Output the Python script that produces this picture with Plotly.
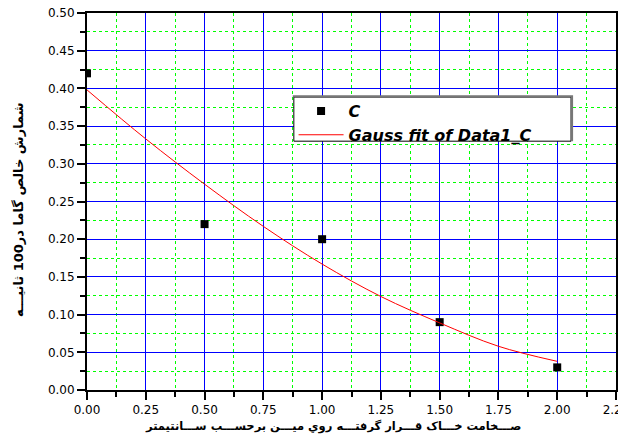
import plotly.graph_objects as go

# measured data
x_data = [0.0, 0.5, 1.0, 1.5, 2.0]
y_data = [0.42, 0.22, 0.20, 0.09, 0.03]

# Gauss fit curve values
x_fit = [0.0, 0.25, 0.5, 0.75, 1.0, 1.25, 1.5, 1.75, 2.0]
y_fit = [0.398, 0.333, 0.273, 0.217, 0.167, 0.124, 0.089, 0.058, 0.038]

x_ticks = [0.0, 0.25, 0.5, 0.75, 1.0, 1.25, 1.5, 1.75, 2.0, 2.25]
y_ticks = [0.0, 0.05, 0.10, 0.15, 0.20, 0.25, 0.30, 0.35, 0.40, 0.45, 0.50]

x_title = "صـــخامت خـــاک قـــرار گرفتـــه روي ميـــن برحســـب ســـانتيمتر"
y_title = "شمارش خالص گاما در100 ثانيـــه"

fig = go.Figure()
fig.add_trace(go.Scatter(
    x=x_data, y=y_data, mode="markers", name="C",
    marker=dict(symbol="square", size=8, color="black"),
    cliponaxis=True,
))
fig.add_trace(go.Scatter(
    x=x_fit, y=y_fit, mode="lines", name="Gauss fit of Data1_C",
    line=dict(color="red", width=1, shape="spline"),
))

axis_common = dict(
    showline=True, linecolor="black", linewidth=2, mirror=True,
    ticks="outside", ticklen=8, tickwidth=1.5, tickcolor="black",
    showgrid=True, gridcolor="#0000ff", gridwidth=1,
    zeroline=False, automargin=False, ticklabeloverflow="allow",
    tickfont=dict(family="DejaVu Sans", size=12, color="black"),
)

fig.update_xaxes(
    range=[0, 2.25], tickvals=x_ticks, tickformat=".2f",
    minor=dict(dtick=0.125, ticks="outside", ticklen=5, tickcolor="black",
               showgrid=True, gridcolor="#00ff00", griddash="dot", gridwidth=1),
    **axis_common,
)
fig.update_yaxes(
    range=[0, 0.5], tickvals=y_ticks, tickformat=".2f",
    minor=dict(dtick=0.025, ticks="outside", ticklen=5, tickcolor="black",
               showgrid=True, gridcolor="#00ff00", griddash="dot", gridwidth=1),
    **axis_common,
)

# axis titles as annotations (placed like the reference)
fig.add_annotation(text=x_title, xref="paper", yref="paper", x=0.465, y=-0.098,
                   xanchor="center", yanchor="middle", showarrow=False,
                   font=dict(family="DejaVu Sans", size=11.5, color="black", weight="bold"))
fig.add_annotation(text=y_title, xref="paper", yref="paper", x=-0.1285, y=0.4775,
                   xanchor="center", yanchor="middle", showarrow=False, textangle=-90,
                   font=dict(family="DejaVu Sans", size=13, color="black", weight="bold"))

# legend frame (white box with shadow) drawn as shapes in paper coords
fig.add_shape(type="rect", xref="paper", yref="paper",
              x0=0.391, x1=0.915, y0=0.660, y1=0.777,
              fillcolor="white", line=dict(color="black", width=1), layer="above")
fig.add_shape(type="path", xref="paper", yref="paper",
              path="M 0.389,0.779 L 0.917,0.779 L 0.917,0.660",
              line=dict(color="#777777", width=2), layer="above")

# page body adds an 8px offset: figure is 618x429 so it ends at the window edge
fig.update_layout(
    width=618, height=429,
    margin=dict(l=79, r=10, t=5, b=47),
    plot_bgcolor="white", paper_bgcolor="white",
    showlegend=True,
    legend=dict(
        x=0.3905, y=0.785, xanchor="left", yanchor="top",
        bgcolor="rgba(0,0,0,0)", borderwidth=0,
        font=dict(family="DejaVu Sans", size=16, color="black", weight="bold", style="italic"),
        itemwidth=45, tracegroupgap=0,
    ),
)

fig.write_html("out.html")
